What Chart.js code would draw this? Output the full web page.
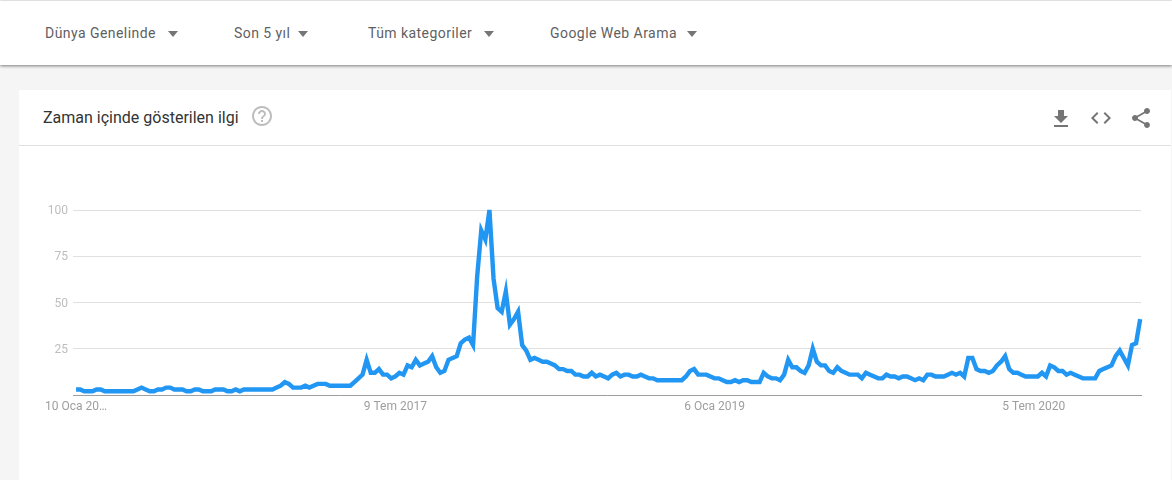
<!DOCTYPE html>
<html lang="tr">
<head>
<meta charset="utf-8">
<title>Zaman içinde gösterilen ilgi</title>
<script src="https://cdn.jsdelivr.net/npm/chart.js@4/dist/chart.umd.min.js"></script>
<style>
  html, body { margin: 0; padding: 0; width: 1172px; height: 480px; overflow: hidden; background: #f5f5f5; font-family: Roboto, sans-serif; }
  .topbar { position: absolute; left: 0; top: 1px; width: 1172px; height: 64px; background: #fff; box-shadow: 0 1px 3px rgba(0,0,0,.5); }
  .filter { position: absolute; top: 24px; font-size: 14px; line-height: 17px; color: #5f5f5f; white-space: nowrap; letter-spacing: .45px; }
  .arrow { position: absolute; top: 30px; width: 0; height: 0; border-left: 5.5px solid transparent; border-right: 5.5px solid transparent; border-top: 6px solid #757575; }
  .card { position: absolute; left: 19px; top: 90px; width: 1152px; height: 390px; background: #fff; }
  .card-head { position: absolute; left: 0; top: 0; width: 100%; height: 55px; border-bottom: 1px solid #e0e0e0; }
  .card-title { position: absolute; left: 24px; top: 18px; font-size: 16px; line-height: 19px; color: #333; white-space: nowrap; }
  svg.icon { position: absolute; fill: #757575; }
  #chart { position: absolute; left: 0; top: 146px; }
</style>
</head>
<body>
<div class="topbar">
  <span class="filter" style="left:45px">Dünya Genelinde</span><span class="arrow" style="left:168px"></span>
  <span class="filter" style="left:234px">Son 5 yıl</span><span class="arrow" style="left:298px"></span>
  <span class="filter" style="left:368px">Tüm kategoriler</span><span class="arrow" style="left:484px"></span>
  <span class="filter" style="left:550px">Google Web Arama</span><span class="arrow" style="left:687px"></span>
</div>
<div class="card">
  <div class="card-head">
    <span class="card-title">Zaman içinde gösterilen ilgi</span>
    <svg class="icon" style="left:231px;top:14px;fill:#bdbdbd" width="24" height="24" viewBox="0 0 24 24"><path d="M11 18h2v-2h-2v2zm1-16C6.48 2 2 6.48 2 12s4.48 10 10 10 10-4.48 10-10S17.520 2 12 2zm0 18c-4.410 0-8-3.590-8-8s3.590-8 8-8 8 3.590 8 8-3.590 8-8 8zm0-14c-2.210 0-4 1.790-4 4h2c0-1.100.9-2 2-2s2 .9 2 2c0 2-3 1.750-3 5h2c0-2.250 3-2.500 3-5 0-2.210-1.790-4-4-4z"/></svg>
    <svg class="icon" style="left:1030px;top:17px" width="24" height="24" viewBox="0 0 24 24"><path d="M19 9h-4V3H9v6H5l7 7 7-7zM5 18v2h14v-2H5z"/></svg>
    <svg class="icon" style="left:1070px;top:16px" width="24" height="24" viewBox="0 0 24 24"><path d="M9.400 16.600L4.800 12l4.600-4.600L8 6l-6 6 6 6 1.400-1.400zm5.200 0l4.600-4.600-4.600-4.600L16 6l6 6-6 6-1.400-1.400z"/></svg>
    <svg class="icon" style="left:1110px;top:16px" width="24" height="24" viewBox="0 0 24 24"><path d="M18 16.080c-.76 0-1.440.3-1.960.77L8.910 12.700c.05-.23.09-.46.09-.7s-.04-.47-.09-.7l7.050-4.110c.54.5 1.250.81 2.040.81 1.660 0 3-1.340 3-3s-1.340-3-3-3-3 1.340-3 3c0 .24.04.47.09.7L8.040 9.810C7.500 9.310 6.790 9 6 9c-1.660 0-3 1.340-3 3s1.340 3 3 3c.79 0 1.500-.31 2.040-.81l7.120 4.160c-.05.21-.08.43-.08.65 0 1.610 1.310 2.920 2.920 2.920 1.610 0 2.920-1.310 2.920-2.920s-1.310-2.920-2.920-2.920z"/></svg>
  </div>
</div>
<canvas id="chart" width="1172" height="334"></canvas>
<script>
const interest = [
  3,3,2,2,2,3,3,2,2,2,2,2,2,2,2,3,4,3,2,2,
  3,3,4,4,3,3,3,2,2,3,3,2,2,2,3,3,3,2,2,3,
  2,3,3,3,3,3,3,3,3,4,5,7,6,4,4,4,5,4,5,6,
  6,6,5,5,5,5,5,5,7,9,11,19,12,12,14,11,11,9,10,12,
  11,16,15,19,16,17,18,21,15,12,13,19,20,21,28,30,31,27,64,89,
  84,100,63,47,45,56,38,41,45,27,24,19,20,19,18,18,17,16,14,14,
  13,13,11,11,10,10,12,10,11,10,9,11,12,10,11,11,10,10,11,10,
  9,9,8,8,8,8,8,8,8,10,13,14,11,11,11,10,9,9,8,7,
  7,8,7,8,8,7,7,7,12,10,9,9,8,11,19,15,15,13,12,16,
  25,18,16,16,13,12,15,13,12,11,11,11,9,12,11,10,9,9,11,10,
  10,9,10,10,9,8,9,8,11,11,10,10,10,11,12,11,12,10,20,20,
  14,13,13,12,13,16,18,21,14,12,12,11,10,10,10,10,12,10,16,15,
  13,13,11,12,11,10,9,9,9,9,13,14,15,16,21,24,20,16,27,28,
  41
];
const weeks = interest.map((_, i) => i);
const yTicks = [0, 25, 50, 75, 100];
const xTickWeeks = [0, 78, 156, 234];
const xTickLabels = ["10 Oca 20…", "9 Tem 2017", "6 Oca 2019", "5 Tem 2020"];

new Chart(document.getElementById("chart").getContext("2d"), {
  type: "line",
  data: {
    labels: weeks,
    datasets: [{
      label: "Zaman içinde gösterilen ilgi",
      data: weeks.map((week) => ({ x: week, y: interest[week] })),
      borderColor: "#2196f3",
      borderWidth: 4.4,
      borderJoinStyle: "miter",
      pointRadius: 0,
      tension: 0,
      clip: false,
    }],
  },
  options: {
    responsive: false,
    animation: false,
    layout: { padding: { top: 64, right: 31, left: 0, bottom: 0 } },
    plugins: { legend: { display: false }, tooltip: { enabled: false } },
    scales: {
      x: {
        type: "linear",
        min: -0.75,
        max: 260.2,
        afterFit: (scale) => { scale.height = 85; },
        afterBuildTicks: (scale) => { scale.ticks = xTickWeeks.map((value) => ({ value })); },
        ticks: {
          autoSkip: false,
          maxRotation: 0,
          padding: 2,
          color: "#9e9e9e",
          font: { family: "Roboto", size: 12 },
          callback: (value) => xTickLabels[xTickWeeks.indexOf(value)],
        },
        grid: { display: false, tickLength: 3 },
        border: { color: "#9e9e9e", width: 1 },
      },
      y: {
        min: 0,
        max: 100,
        afterFit: (scale) => { scale.width = 73; },
        afterBuildTicks: (scale) => { scale.ticks = yTicks.map((value) => ({ value })); },
        ticks: {
          padding: 5,
          labelOffset: 1,
          color: "#bdbdbd",
          font: { family: "Roboto", size: 12 },
          callback: (value) => (value === 0 ? "" : value),
        },
        grid: { color: "#e0e0e0", drawTicks: false },
        border: { display: false },
      },
    },
  },
});
</script>
</body>
</html>
